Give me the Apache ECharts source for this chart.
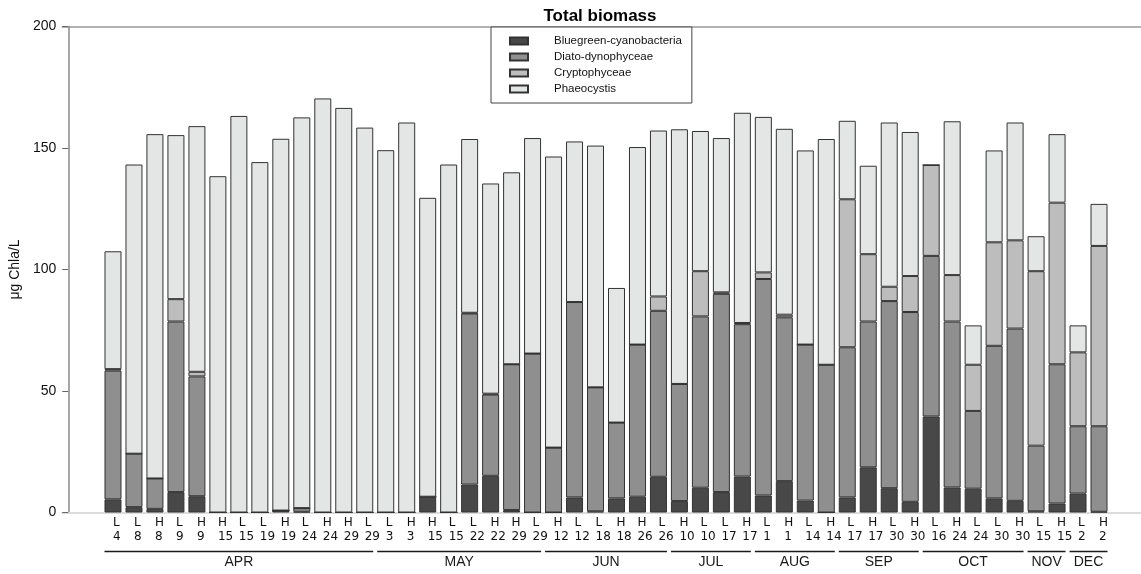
<!DOCTYPE html>
<html>
<head>
<meta charset="utf-8">
<title>Total biomass</title>
<script src="https://cdn.jsdelivr.net/npm/echarts@6/dist/echarts.min.js"></script>
<style>
  html, body { margin: 0; padding: 0; background: #fff; }
  #main { width: 1141px; height: 574px; }
</style>
</head>
<body>
<div id="main"></div>
<script>
// sampling dates: tide (L = low, H = high) and day of month
const tides = [
  'L', 'L', 'H', 'L', 'H', 'H', 'L', 'L', 'H', 'L', 'H', 'H', 'L',
  'L', 'H', 'H', 'L', 'L', 'H', 'H', 'L',
  'H', 'L', 'L', 'H', 'H', 'L',
  'H', 'L', 'L', 'H',
  'L', 'H', 'L', 'H',
  'L', 'H', 'L', 'H',
  'L', 'H', 'L', 'L', 'H',
  'L', 'H',
  'L', 'H'
];
const days = [
  4, 8, 8, 9, 9, 15, 15, 19, 19, 24, 24, 29, 29,
  3, 3, 15, 15, 22, 22, 29, 29,
  12, 12, 18, 18, 26, 26,
  10, 10, 17, 17,
  1, 1, 14, 14,
  17, 17, 30, 30,
  16, 24, 24, 30, 30,
  15, 15,
  2, 2
];
const months = ['APR', 'MAY', 'JUN', 'JUL', 'AUG', 'SEP', 'OCT', 'NOV', 'DEC'];
const monthCounts = [13, 8, 6, 4, 4, 4, 5, 2, 2];

// µg Chla/L per group
const bluegreen = [
  5.4, 2.2, 1.5, 8.4, 6.7, 0, 0, 0, 0.8, 0.3, 0, 0, 0,
  0, 0, 6.5, 0, 11.5, 15.1, 1, 0,
  0, 6.2, 0.5, 5.8, 6.5, 14.7,
  4.7, 10.2, 8.4, 14.8,
  7, 12.9, 4.9, 0,
  6.2, 18.6, 10, 4.4,
  39.5, 10.3, 9.8, 5.8, 4.8,
  0.5, 3.7,
  7.8, 0.3
];
const diato = [
  53, 22, 12.5, 70.2, 49.3, 0, 0, 0, 0, 1.5, 0, 0, 0,
  0, 0, 0, 0, 70.4, 33.4, 60, 65.4,
  26.7, 80.4, 51, 31.2, 62.6, 68.3,
  48.2, 70.5, 81.6, 62.7,
  89.1, 67.4, 64.2, 60.8,
  61.8, 60, 77, 78.1,
  66.1, 68.3, 32, 62.8, 70.9,
  27, 57.3,
  27.7, 35.2
];
const cryptophyceae = [
  0.6, 0, 0, 9.2, 1.9, 0, 0, 0, 0, 0, 0, 0, 0,
  0, 0, 0, 0, 0.3, 0.4, 0, 0,
  0, 0, 0, 0, 0, 5.9,
  0, 18.6, 0.6, 0.5,
  2.7, 1.1, 0, 0,
  60.9, 27.7, 5.9, 14.8,
  37.4, 19.1, 19, 42.6, 36.3,
  71.8, 66.5,
  30.4, 74.2
];
const phaeocystis = [
  48.5, 119, 141.7, 67.5, 101.1, 138.4, 163.2, 144.2, 153, 160.8, 170.4, 166.5, 158.4,
  149.1, 160.5, 123, 143.2, 71.5, 86.5, 79, 88.7,
  119.8, 66.1, 99.5, 55.4, 81.3, 68.3,
  104.8, 57.7, 63.5, 86.5,
  64, 76.5, 79.9, 92.9,
  32.3, 36.4, 67.6, 59.3,
  0, 63.3, 16.2, 37.8, 48.5,
  14.4, 28.2,
  11.1, 17.3
];

const seriesNames = ['Bluegreen-cyanobacteria', 'Diato-dynophyceae', 'Cryptophyceae', 'Phaeocystis'];
const seriesColors = ['#484848', '#8f8f8f', '#bdbdbd', '#e4e6e5'];
const seriesData = [bluegreen, diato, cryptophyceae, phaeocystis];

const categories = tides.map((t, i) => t + '\n' + days[i]);

// [first bar, last bar] of each month
let start = 0;
const monthGroups = monthCounts.map(n => {
  const g = [start, start + n - 1];
  start += n;
  return g;
});

const chart = echarts.init(document.getElementById('main'));

const barSeries = seriesNames.map((name, k) => ({
  name: name,
  type: 'bar',
  stack: 'total',
  xAxisIndex: 0,
  yAxisIndex: 1,
  barWidth: 17,
  data: seriesData[k],
  itemStyle: { color: seriesColors[k], borderColor: '#333', borderWidth: 1 }
}));

const option = {
  animation: false,
  title: {
    text: 'Total biomass',
    left: 600,
    top: 8,
    textAlign: 'center',
    padding: 0,
    textStyle: { fontFamily: 'Liberation Sans', fontSize: 17, fontWeight: 'bold', color: '#000' }
  },
  legend: {
    data: seriesNames,
    orient: 'vertical',
    left: 491,
    top: 27,
    padding: [8, 10, 8, 18],
    itemWidth: 18,
    itemHeight: 7,
    itemGap: 4,
    icon: 'rect',
    backgroundColor: '#fff',
    borderColor: '#444',
    borderWidth: 1,
    selectedMode: false,
    z: 10,
    textStyle: {
      fontFamily: 'Liberation Sans',
      fontSize: 11.5,
      color: '#111',
      lineHeight: 12,
      padding: [0, 0, 0, 21]
    }
  },
  grid: [
    { left: 102.5, right: 31.5, top: 26.5, bottom: 61.5 },
    { left: 59, right: 0, top: 26.5, bottom: 61.5 }
  ],
  xAxis: [
    {
      type: 'category',
      gridIndex: 0,
      data: categories,
      axisLine: { show: false },
      axisTick: { show: false },
      axisLabel: {
        interval: 0,
        align: 'left',
        margin: 3,
        fontFamily: 'DejaVu Sans',
        fontSize: 12,
        lineHeight: 14,
        color: '#111'
      }
    },
    {
      type: 'value',
      gridIndex: 1,
      min: 0,
      max: 1,
      position: 'bottom',
      axisLine: { show: true, lineStyle: { color: '#dcdcdc', width: 2 } },
      axisTick: { show: false },
      axisLabel: { show: false },
      splitLine: { show: false }
    },
    {
      type: 'value',
      gridIndex: 1,
      min: 0,
      max: 1,
      position: 'top',
      axisLine: { show: true, lineStyle: { color: '#999', width: 1.5 } },
      axisTick: { show: false },
      axisLabel: { show: false },
      splitLine: { show: false }
    }
  ],
  yAxis: [
    {
      type: 'value',
      gridIndex: 1,
      min: 0,
      max: 200,
      interval: 50,
      offset: -6,
      name: 'μg Chla/L',
      nameLocation: 'middle',
      nameGap: 38,
      nameRotate: 90,
      nameTextStyle: { fontFamily: 'Liberation Sans', fontSize: 14, color: '#111' },
      axisLine: { show: true, lineStyle: { color: '#8a8a8a', width: 1.5 } },
      axisTick: { show: true, length: 6, lineStyle: { color: '#666' } },
      axisLabel: { margin: 12, fontFamily: 'Liberation Sans', fontSize: 14, color: '#111' },
      splitLine: { show: false }
    },
    {
      type: 'value',
      gridIndex: 0,
      min: 0,
      max: 200,
      show: false
    }
  ],
  series: barSeries.concat([{
    name: 'months',
    type: 'custom',
    xAxisIndex: 0,
    yAxisIndex: 1,
    clip: false,
    encode: { x: [0, 1] },
    data: monthGroups,
    renderItem: function (params, api) {
      const a = api.coord([api.value(0), 0]);
      const b = api.coord([api.value(1), 0]);
      const band = api.size([1, 0])[0];
      const y = a[1] + 39;
      const x1 = a[0] - band / 2 + 2;
      const x2 = b[0] + band / 2 - 2;
      return {
        type: 'group',
        children: [
          {
            type: 'line',
            shape: { x1: x1, y1: y, x2: x2, y2: y },
            style: { stroke: '#1a1a1a', lineWidth: 1.5 }
          },
          {
            type: 'text',
            x: (x1 + x2) / 2,
            y: y + 11,
            style: {
              text: months[params.dataIndex],
              fill: '#1a1a1a',
              fontFamily: 'Liberation Sans',
              fontSize: 14,
              align: 'center',
              verticalAlign: 'middle',
              textAlign: 'center',
              textVerticalAlign: 'middle'
            }
          }
        ]
      };
    }
  }])
};

chart.setOption(option);
</script>
</body>
</html>
